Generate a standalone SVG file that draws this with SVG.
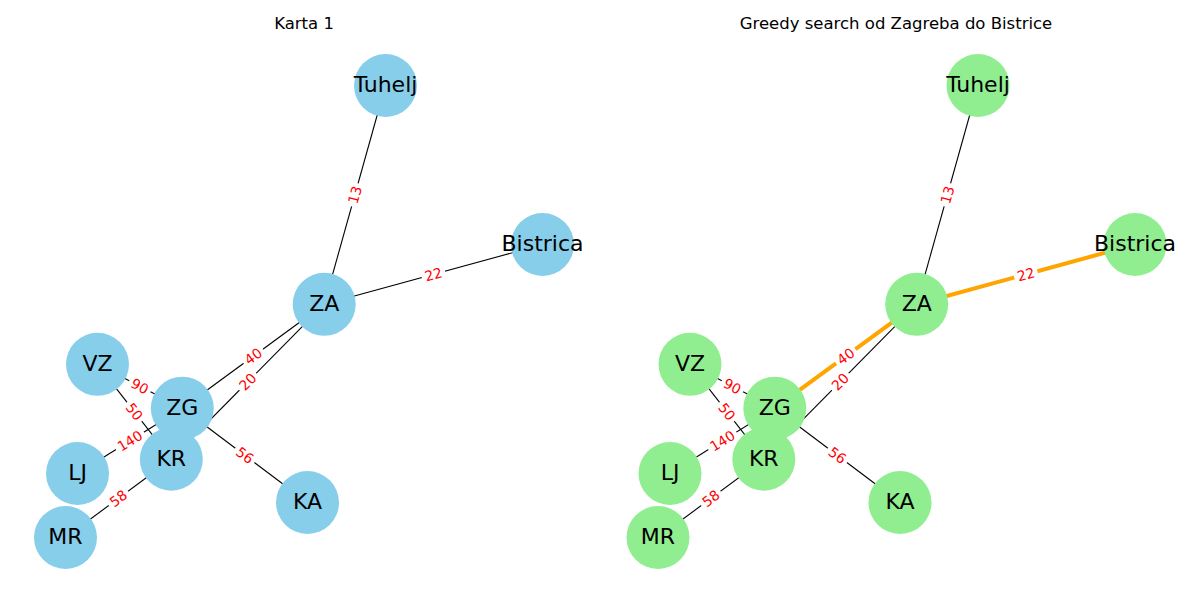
<svg xmlns="http://www.w3.org/2000/svg" width="1200" height="600" viewBox="0 0 1200 600">
<style>
.title{font-family:"DejaVu Sans","Liberation Sans",sans-serif;font-size:16.5px;fill:#000;text-anchor:middle}
.e{stroke:#000;stroke-width:1.1;fill:none}
.p{stroke:#FFA500;stroke-width:4;fill:none}
.lb rect{fill:#fff;stroke:none}
.lb text{font-family:"DejaVu Sans","Liberation Sans",sans-serif;font-size:13.9px;fill:#f00;text-anchor:middle;dominant-baseline:central}
.nl circle{fill:#87CEEB}
.nr circle{fill:#90EE90}
.n text{font-family:"DejaVu Sans","Liberation Sans",sans-serif;font-size:22px;fill:#000;text-anchor:middle;dominant-baseline:central}
</style>
<rect width="1200" height="600" fill="#fff"/>
<text class="title" x="304" y="29">Karta 1</text>
<text class="title" x="896" y="29">Greedy search od Zagreba do Bistrice</text>

<!-- LEFT PANEL -->
<g id="left-edges">
<line class="e" x1="385.5" y1="85.5" x2="324.2" y2="304.3"/>
<line class="e" x1="324.2" y1="304.3" x2="542.5" y2="244.5"/>
<line class="e" x1="324.2" y1="304.3" x2="182.3" y2="408.2"/>
<line class="e" x1="324.2" y1="304.3" x2="171.3" y2="459.2"/>
<line class="e" x1="97.5" y1="364.3" x2="182.3" y2="408.2"/>
<line class="e" x1="97.5" y1="364.3" x2="171.3" y2="459.2"/>
<line class="e" x1="77.5" y1="473.5" x2="182.3" y2="408.2"/>
<line class="e" x1="65.5" y1="537.5" x2="171.3" y2="459.2"/>
<line class="e" x1="182.3" y1="408.2" x2="307.5" y2="502.5"/>
<line class="e" x1="77.5" y1="473.5" x2="65.5" y2="537.5"/>
<g class="lb" transform="translate(71.5,505.5) rotate(79.5)"><rect x="-12" y="-9" width="24" height="18" rx="3"/></g>
<g class="lb" transform="translate(354.85,194.9) rotate(-74.4)"><rect x="-12" y="-9" width="24" height="18" rx="3"/><text>13</text></g>
<g class="lb" transform="translate(433.35,274.4) rotate(-15.3)"><rect x="-12" y="-9" width="24" height="18" rx="3"/><text>22</text></g>
<g class="lb" transform="translate(253.25,356.25) rotate(-36.2)"><rect x="-12" y="-9" width="24" height="18" rx="3"/><text>40</text></g>
<g class="lb" transform="translate(247.75,381.75) rotate(-45.4)"><rect x="-12" y="-9" width="24" height="18" rx="3"/><text>20</text></g>
<g class="lb" transform="translate(139.9,386.25) rotate(27.4)"><rect x="-12" y="-9" width="24" height="18" rx="3"/><text>90</text></g>
<g class="lb" transform="translate(134.4,411.75) rotate(52.1)"><rect x="-12" y="-9" width="24" height="18" rx="3"/><text>50</text></g>
<g class="lb" transform="translate(129.9,440.85) rotate(-31.9)"><rect x="-16.5" y="-9" width="33" height="18" rx="3"/><text>140</text></g>
<g class="lb" transform="translate(118.4,498.35) rotate(-36.5)"><rect x="-12" y="-9" width="24" height="18" rx="3"/><text>58</text></g>
<g class="lb" transform="translate(244.9,455.35) rotate(37)"><rect x="-12" y="-9" width="24" height="18" rx="3"/><text>56</text></g>
</g>
<g id="L-Tuhelj" class="n nl"><circle cx="385.5" cy="85.5" r="31.5"/><text x="385.5" y="84.5">Tuhelj</text></g>
<g id="L-Bistrica" class="n nl"><circle cx="542.5" cy="244.5" r="31.5"/><text x="542.5" y="243.5">Bistrica</text></g>
<g id="L-ZA" class="n nl"><circle cx="324.2" cy="304.3" r="31.5"/><text x="324.2" y="303.3">ZA</text></g>
<g id="L-VZ" class="n nl"><circle cx="97.5" cy="364.3" r="31.5"/><text x="97.5" y="363.3">VZ</text></g>
<g id="L-ZG" class="n nl"><circle cx="182.3" cy="408.2" r="31.5"/><text x="182.3" y="407.2">ZG</text></g>
<g id="L-KR" class="n nl"><circle cx="171.3" cy="459.2" r="31.5"/><text x="171.3" y="458.2">KR</text></g>
<g id="L-LJ" class="n nl"><circle cx="77.5" cy="473.5" r="31.5"/><text x="77.5" y="472.5">LJ</text></g>
<g id="L-KA" class="n nl"><circle cx="307.5" cy="502.5" r="31.5"/><text x="307.5" y="501.5">KA</text></g>
<g id="L-MR" class="n nl"><circle cx="65.5" cy="537.5" r="31.5"/><text x="65.5" y="536.5">MR</text></g>

<!-- RIGHT PANEL -->
<g id="right-edges" transform="translate(592.5,0)">
<line class="e" x1="385.5" y1="85.5" x2="324.2" y2="304.3"/>
<line class="p" x1="324.2" y1="304.3" x2="542.5" y2="244.5"/>
<line class="p" x1="324.2" y1="304.3" x2="182.3" y2="408.2"/>
<line class="e" x1="324.2" y1="304.3" x2="171.3" y2="459.2"/>
<line class="e" x1="97.5" y1="364.3" x2="182.3" y2="408.2"/>
<line class="e" x1="97.5" y1="364.3" x2="171.3" y2="459.2"/>
<line class="e" x1="77.5" y1="473.5" x2="182.3" y2="408.2"/>
<line class="e" x1="65.5" y1="537.5" x2="171.3" y2="459.2"/>
<line class="e" x1="182.3" y1="408.2" x2="307.5" y2="502.5"/>
<line class="e" x1="77.5" y1="473.5" x2="65.5" y2="537.5"/>
<g class="lb" transform="translate(71.5,505.5) rotate(79.5)"><rect x="-12" y="-9" width="24" height="18" rx="3"/></g>
<g class="lb" transform="translate(354.85,194.9) rotate(-74.4)"><rect x="-12" y="-9" width="24" height="18" rx="3"/><text>13</text></g>
<g class="lb" transform="translate(433.35,274.4) rotate(-15.3)"><rect x="-12" y="-9" width="24" height="18" rx="3"/><text>22</text></g>
<g class="lb" transform="translate(253.25,356.25) rotate(-36.2)"><rect x="-12" y="-9" width="24" height="18" rx="3"/><text>40</text></g>
<g class="lb" transform="translate(247.75,381.75) rotate(-45.4)"><rect x="-12" y="-9" width="24" height="18" rx="3"/><text>20</text></g>
<g class="lb" transform="translate(139.9,386.25) rotate(27.4)"><rect x="-12" y="-9" width="24" height="18" rx="3"/><text>90</text></g>
<g class="lb" transform="translate(134.4,411.75) rotate(52.1)"><rect x="-12" y="-9" width="24" height="18" rx="3"/><text>50</text></g>
<g class="lb" transform="translate(129.9,440.85) rotate(-31.9)"><rect x="-16.5" y="-9" width="33" height="18" rx="3"/><text>140</text></g>
<g class="lb" transform="translate(118.4,498.35) rotate(-36.5)"><rect x="-12" y="-9" width="24" height="18" rx="3"/><text>58</text></g>
<g class="lb" transform="translate(244.9,455.35) rotate(37)"><rect x="-12" y="-9" width="24" height="18" rx="3"/><text>56</text></g>
</g>
<g id="R-Tuhelj" class="n nr"><circle cx="978" cy="85.5" r="31.5"/><text x="978" y="84.5">Tuhelj</text></g>
<g id="R-Bistrica" class="n nr"><circle cx="1135" cy="244.5" r="31.5"/><text x="1135" y="243.5">Bistrica</text></g>
<g id="R-ZA" class="n nr"><circle cx="916.7" cy="304.3" r="31.5"/><text x="916.7" y="303.3">ZA</text></g>
<g id="R-VZ" class="n nr"><circle cx="690" cy="364.3" r="31.5"/><text x="690" y="363.3">VZ</text></g>
<g id="R-ZG" class="n nr"><circle cx="774.8" cy="408.2" r="31.5"/><text x="774.8" y="407.2">ZG</text></g>
<g id="R-KR" class="n nr"><circle cx="763.8" cy="459.2" r="31.5"/><text x="763.8" y="458.2">KR</text></g>
<g id="R-LJ" class="n nr"><circle cx="670" cy="473.5" r="31.5"/><text x="670" y="472.5">LJ</text></g>
<g id="R-KA" class="n nr"><circle cx="900" cy="502.5" r="31.5"/><text x="900" y="501.5">KA</text></g>
<g id="R-MR" class="n nr"><circle cx="658" cy="537.5" r="31.5"/><text x="658" y="536.5">MR</text></g>
</svg>
